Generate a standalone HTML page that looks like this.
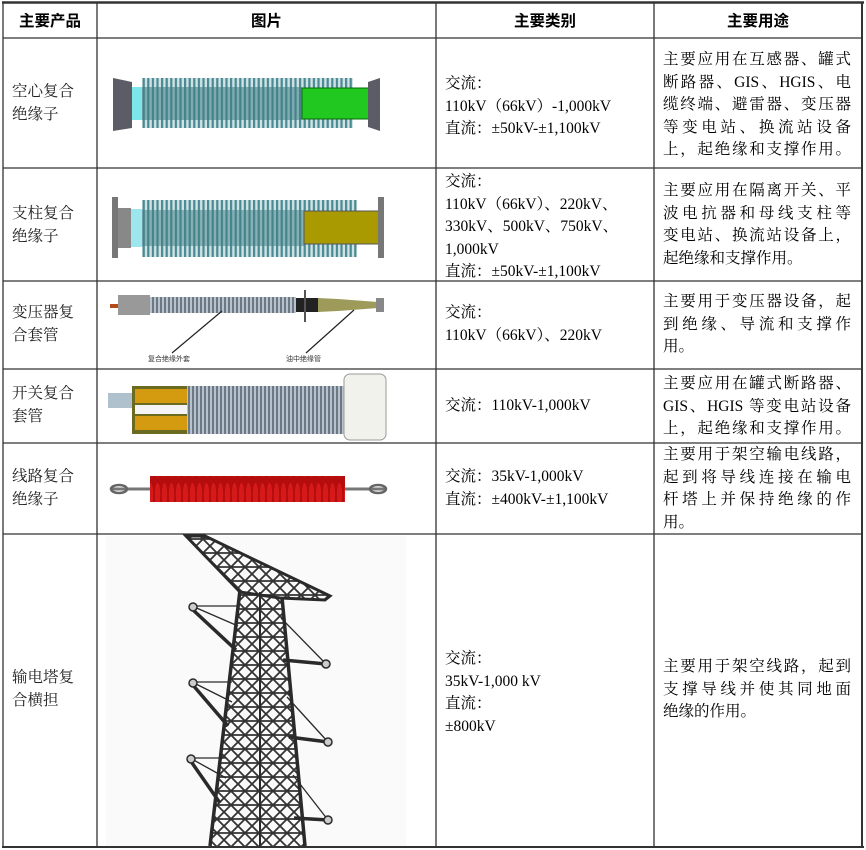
<!DOCTYPE html>
<html><head><meta charset="utf-8"><style>
body{margin:0;width:866px;height:850px;background:#fff;position:relative;overflow:hidden;font-family:"Liberation Serif","Noto Serif CJK SC",serif;color:#000}
.a{position:absolute}
.t{position:absolute;font-size:15.5px;line-height:22.6px;white-space:nowrap}
.c1{color:#222}
.j div{text-align:justify;text-align-last:justify}
.h{position:absolute;font-family:"Liberation Sans","Noto Sans CJK SC",sans-serif;font-weight:bold;font-size:15.5px;text-align:center;top:9px}
</style></head><body>
<svg class="a" style="left:0;top:0" width="866" height="850">
<g stroke="#333" stroke-width="1.3" fill="none">
<line x1="2" y1="2.5" x2="864" y2="2.5" stroke-width="2.5"/>
<line x1="3" y1="38" x2="862" y2="38"/>
<line x1="3" y1="168" x2="862" y2="168"/>
<line x1="3" y1="281" x2="862" y2="281"/>
<line x1="3" y1="369" x2="862" y2="369"/>
<line x1="3" y1="443" x2="862" y2="443"/>
<line x1="3" y1="534" x2="862" y2="534"/>
<line x1="2" y1="847" x2="864" y2="847" stroke-width="2"/>
<line x1="3" y1="2" x2="3" y2="848"/>
<line x1="97" y1="3" x2="97" y2="847"/>
<line x1="436" y1="3" x2="436" y2="847"/>
<line x1="654" y1="3" x2="654" y2="847"/>
<line x1="862" y1="2" x2="862" y2="848" stroke-width="2"/>
</g>
<defs>
<pattern id="fin" width="4.6" height="10" patternUnits="userSpaceOnUse"><rect width="4.6" height="10" fill="#cfe3e6"/><rect width="2.2" height="10" fill="#4b8a92"/></pattern>
<pattern id="fing" width="4" height="10" patternUnits="userSpaceOnUse"><rect width="4" height="10" fill="#b8c2cc"/><rect width="2" height="10" fill="#6d7885"/></pattern>
<pattern id="finr" width="7" height="30" patternUnits="userSpaceOnUse"><rect width="7" height="30" fill="#b50d0d"/><ellipse cx="3.5" cy="15" rx="2.6" ry="12" fill="#d61a1a"/></pattern>
<pattern id="lat" width="14" height="14" patternUnits="userSpaceOnUse"><path d="M0 0L14 14M14 0L0 14M0 7H14" stroke="#333" stroke-width="1.8"/></pattern>
<clipPath id="tw"><polygon points="240,590 282,597 305,846 210,846"/></clipPath>
</defs>
<rect x="142" y="78" width="211" height="50" fill="url(#fin)"/>
<rect x="132" y="87" width="10" height="33" fill="#7de6ea"/>
<rect x="142" y="87" width="160" height="33" fill="#3e7d83" opacity=".55"/>
<rect x="302" y="88" width="75" height="31" fill="#20c820" stroke="#0a6a0a"/>
<polygon points="113,78 132,82 132,128 113,131" fill="#5c5c66"/>
<polygon points="368,82 380,78 380,131 368,127" fill="#5c5c66"/>
<rect x="142" y="200" width="215" height="57" fill="url(#fin)"/>
<rect x="130" y="209" width="12" height="38" fill="#9ee6ee"/>
<rect x="142" y="210" width="162" height="36" fill="#3e7d83" opacity=".5"/>
<rect x="304" y="211" width="76" height="33" fill="#a89a00" stroke="#555"/>
<rect x="118" y="208" width="13" height="40" fill="#888"/>
<rect x="112" y="197" width="6" height="61" fill="#777"/>
<rect x="378" y="197" width="6" height="61" fill="#777"/>
<rect x="110" y="304" width="8" height="4" fill="#b24a1a"/>
<rect x="118" y="295" width="32" height="20" fill="#999"/>
<rect x="150" y="297" width="146" height="16" fill="url(#fing)"/>
<rect x="296" y="298" width="22" height="14" fill="#222"/>
<line x1="305" y1="290" x2="305" y2="322" stroke="#555" stroke-width="2"/>
<polygon points="318,298 338,299 378,302 378,308 338,311 318,312" fill="#9d9a5a"/>
<rect x="376" y="298" width="8" height="14" fill="#888"/>
<g stroke="#222" stroke-width="1.2"><line x1="172" y1="353" x2="222" y2="311"/><line x1="306" y1="353" x2="354" y2="310"/></g>
<text x="148" y="361" font-size="7" fill="#333" font-family="Noto Sans CJK SC,sans-serif">复合绝缘外套</text>
<text x="286" y="361" font-size="7" fill="#333" font-family="Noto Sans CJK SC,sans-serif">油中绝缘管</text>
<rect x="108" y="393" width="30" height="15" fill="#aec1cc"/>
<rect x="132" y="386" width="212" height="48" fill="url(#fing)"/>
<rect x="132" y="386" width="55" height="48" fill="#6a6a20"/>
<rect x="135" y="389" width="52" height="14" fill="#d49a10"/>
<rect x="135" y="416" width="52" height="14" fill="#d49a10"/>
<rect x="135" y="405" width="52" height="9" fill="#f4f4f4"/>
<rect x="344" y="374" width="42" height="66" rx="6" fill="#f2f2ec" stroke="#999"/>
<line x1="112" y1="489" x2="385" y2="489" stroke="#777" stroke-width="3"/>
<ellipse cx="119" cy="489" rx="8" ry="4" fill="none" stroke="#666" stroke-width="2.5"/>
<ellipse cx="378" cy="489" rx="8" ry="4" fill="none" stroke="#666" stroke-width="2.5"/>
<rect x="150" y="476" width="195" height="26" fill="url(#finr)"/>
<rect x="106" y="536" width="300" height="310" fill="#fafafa"/>
<rect x="200" y="580" width="110" height="270" fill="url(#lat)" clip-path="url(#tw)"/>
<g stroke="#2a2a2a" fill="none">
<line x1="240" y1="590" x2="210" y2="846" stroke-width="3.5"/>
<line x1="282" y1="597" x2="305" y2="846" stroke-width="3.5"/>
<line x1="260" y1="592" x2="260" y2="846" stroke-width="2"/>
<polygon points="186,536 205,536 330,596 325,600 280,598 240,592" stroke-width="3" fill="url(#lat)"/>
<g stroke-width="3.5">
<line x1="192" y1="609" x2="236" y2="650"/><line x1="192" y1="684" x2="228" y2="726"/><line x1="190" y1="760" x2="220" y2="803"/>
<line x1="326" y1="664" x2="283" y2="660"/><line x1="328" y1="742" x2="289" y2="737"/><line x1="328" y1="820" x2="294" y2="818"/>
</g>
<g stroke-width="1.3">
<line x1="192" y1="606" x2="238" y2="606"/><line x1="192" y1="606" x2="238" y2="626"/>
<line x1="192" y1="682" x2="232" y2="682"/><line x1="192" y1="682" x2="232" y2="702"/>
<line x1="190" y1="758" x2="226" y2="758"/><line x1="190" y1="758" x2="226" y2="778"/>
<line x1="326" y1="664" x2="281" y2="618"/><line x1="328" y1="742" x2="287" y2="697"/><line x1="328" y1="820" x2="293" y2="775"/>
</g>
<g fill="#ccc" stroke-width="1.5"><circle cx="193" cy="607" r="4"/><circle cx="193" cy="683" r="4"/><circle cx="191" cy="759" r="4"/><circle cx="326" cy="664" r="4"/><circle cx="328" cy="742" r="4"/><circle cx="328" cy="820" r="4"/></g>
</g>
</svg>

<div class="h" style="left:3px;width:94px">主要产品</div>
<div class="h" style="left:97px;width:339px">图片</div>
<div class="h" style="left:436px;width:218px">主要类别</div>
<div class="h" style="left:654px;width:208px">主要用途</div>

<div class="t c1" style="left:12px;top:81px">空心复合<br>绝缘子</div>
<div class="t c1" style="left:12px;top:203px">支柱复合<br>绝缘子</div>
<div class="t c1" style="left:12px;top:302px">变压器复<br>合套管</div>
<div class="t c1" style="left:12px;top:383px">开关复合<br>套管</div>
<div class="t c1" style="left:12px;top:466px">线路复合<br>绝缘子</div>
<div class="t c1" style="left:12px;top:667px">输电塔复<br>合横担</div>

<div class="t" style="left:445px;top:73px">交流：<br>110kV（66kV）-1,000kV<br>直流：±50kV-±1,100kV</div>
<div class="t" style="left:445px;top:171px">交流：<br>110kV（66kV）、220kV、<br>330kV、500kV、750kV、<br>1,000kV<br>直流：±50kV-±1,100kV</div>
<div class="t" style="left:445px;top:302px">交流：<br>110kV（66kV）、220kV</div>
<div class="t" style="left:445px;top:395px">交流：110kV-1,000kV</div>
<div class="t" style="left:445px;top:466px">交流：35kV-1,000kV<br>直流：±400kV-±1,100kV</div>
<div class="t" style="left:445px;top:648px">交流：<br>35kV-1,000 kV<br>直流：<br>±800kV</div>

<div class="t j" style="left:663px;top:49px;width:188px"><div>主要应用在互感器、罐式</div><div>断路器、GIS、HGIS、电</div><div>缆终端、避雷器、变压器</div><div>等变电站、换流站设备</div><div>上，起绝缘和支撑作用。</div></div>
<div class="t j" style="left:663px;top:180px;width:188px"><div>主要应用在隔离开关、平</div><div>波电抗器和母线支柱等</div><div>变电站、换流站设备上，</div><div style="text-align-last:left">起绝缘和支撑作用。</div></div>
<div class="t j" style="left:663px;top:291px;width:188px"><div>主要用于变压器设备，起</div><div>到绝缘、导流和支撑作</div><div style="text-align-last:left">用。</div></div>
<div class="t j" style="left:663px;top:373px;width:188px"><div>主要应用在罐式断路器、</div><div>GIS、HGIS 等变电站设备</div><div>上，起绝缘和支撑作用。</div></div>
<div class="t j" style="left:663px;top:444px;width:188px"><div>主要用于架空输电线路，</div><div>起到将导线连接在输电</div><div>杆塔上并保持绝缘的作</div><div style="text-align-last:left">用。</div></div>
<div class="t j" style="left:663px;top:656px;width:188px"><div>主要用于架空线路，起到</div><div>支撑导线并使其同地面</div><div style="text-align-last:left">绝缘的作用。</div></div>
</body></html>
